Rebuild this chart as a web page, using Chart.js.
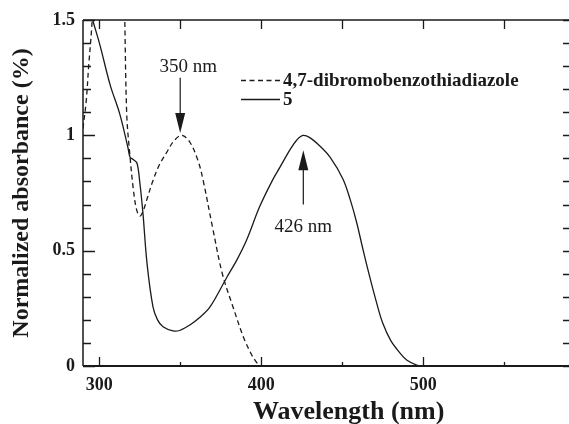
<!DOCTYPE html>
<html>
<head>
<meta charset="utf-8">
<script src="https://cdn.jsdelivr.net/npm/chart.js@4/dist/chart.umd.min.js"></script>
<style>
  html, body { margin: 0; padding: 0; background: #fff; }
  #wrap { width: 569px; height: 424px; }
</style>
</head>
<body>
<div id="wrap"><canvas id="absChart" width="569" height="424"></canvas></div>
<script>
// spectrum data (wavelength in nm, normalized absorbance)
const dibromoWl  = [290, 292, 293.5, 295.5, 298, 302, 308, 313, 315.5, 317, 319, 321, 323, 325, 327, 330, 333, 337, 342, 346, 351, 356, 361, 364, 370, 376, 382.6, 389, 394, 397, 399];
const dibromoAbs = [1.03, 1.15, 1.3, 1.48, 1.8, 2.3, 2.6, 2.2, 1.6, 1.09, 0.91, 0.77, 0.68, 0.65, 0.67, 0.735, 0.8, 0.87, 0.93, 0.975, 1.0, 0.97, 0.89, 0.81, 0.6, 0.40, 0.256, 0.126, 0.05, 0.017, 0];

const cmpd5Wl  = [295, 296, 300.5, 306.7, 312.8, 317.8, 319, 321, 323.3, 325, 327, 329.5, 333.2, 336, 339.4, 345.6, 350, 356, 362, 368.4, 378.9, 385, 391, 399, 407, 411.6, 418, 422, 425.8, 430, 436, 442.5, 450.5, 455, 459, 463, 467, 471, 475, 480, 485.7, 490, 496, 500];
const cmpd5Abs = [1.53, 1.5, 1.39, 1.22, 1.09, 0.945, 0.906, 0.895, 0.88, 0.80, 0.663, 0.446, 0.256, 0.2, 0.17, 0.152, 0.155, 0.178, 0.21, 0.256, 0.386, 0.46, 0.546, 0.69, 0.806, 0.862, 0.94, 0.98, 1.0, 0.99, 0.955, 0.905, 0.81, 0.72, 0.62, 0.5, 0.386, 0.28, 0.186, 0.11, 0.056, 0.025, 0.004, 0];

const xTickVals = [300, 400, 500];
const yTickVals = [0, 0.5, 1, 1.5];
const seriesNames = ['4,7-dibromobenzothiadiazole', '5'];
const peakLabels = [
  { wl: 350, text: '350 nm' },
  { wl: 426, text: '426 nm' }
];

const serif = "'Liberation Serif', 'Times New Roman', serif";
const ink = '#1a1a1a';

function toPoints(xs, ys) {
  return xs.map((x, i) => ({ x: x, y: ys[i] }));
}

// frame, inward ticks, legend, peak arrows, x title
const decorations = {
  id: 'decorations',
  afterDraw(chart) {
    const ctx = chart.ctx;
    const a = chart.chartArea;
    const xs = chart.scales.x;
    const ys = chart.scales.y;
    ctx.save();
    ctx.strokeStyle = ink;
    ctx.fillStyle = ink;

    // frame (right edge falls outside the picture)
    ctx.lineWidth = 1.5;
    ctx.beginPath();
    ctx.moveTo(a.left, a.top); ctx.lineTo(a.right, a.top);
    ctx.moveTo(a.left, a.top); ctx.lineTo(a.left, a.bottom);
    ctx.stroke();
    ctx.lineWidth = 2;
    ctx.beginPath();
    ctx.moveTo(a.left, a.bottom); ctx.lineTo(a.right, a.bottom);
    ctx.stroke();

    // x ticks
    ctx.lineWidth = 1.3;
    ctx.beginPath();
    for (let v = 300; v < 590; v += 50) {
      const px = Math.round(xs.getPixelForValue(v)) + 0.5;
      const major = v % 100 === 0;
      ctx.moveTo(px, a.bottom); ctx.lineTo(px, a.bottom - (major ? 9 : 4));
      ctx.moveTo(px, a.top); ctx.lineTo(px, a.top + 9);
    }
    // y ticks
    for (let i = 0; i <= 15; i++) {
      const v = i / 10;
      const py = Math.round(ys.getPixelForValue(v)) + 0.5;
      const major = i % 5 === 0;
      ctx.moveTo(a.left, py); ctx.lineTo(a.left + (major ? 12 : 8), py);
      ctx.moveTo(a.right, py); ctx.lineTo(a.right - 6, py);
    }
    ctx.stroke();

    // legend
    const ds = chart.data.datasets;
    const legendRows = [80, 99];
    ctx.font = 'bold 19px ' + serif;
    ctx.textBaseline = 'middle';
    ctx.textAlign = 'left';
    ds.forEach((d, i) => {
      const y = legendRows[i] + 0.5;
      ctx.lineWidth = 1.3;
      ctx.setLineDash(d.borderDash || []);
      ctx.beginPath();
      ctx.moveTo(241, y); ctx.lineTo(280, y);
      ctx.stroke();
      ctx.setLineDash([]);
      ctx.fillText(d.label, 283, legendRows[i] + 1);
    });

    // peak arrows
    ctx.lineWidth = 1.2;
    ctx.font = '19px ' + serif;
    ctx.textAlign = 'center';
    // 350 nm, pointing down
    let px = xs.getPixelForValue(peakLabels[0].wl);
    let tip = ys.getPixelForValue(1.01);
    let tail = ys.getPixelForValue(1.25);
    ctx.beginPath();
    ctx.moveTo(px, tail); ctx.lineTo(px, tip - 18);
    ctx.stroke();
    ctx.beginPath();
    ctx.moveTo(px, tip); ctx.lineTo(px - 5, tip - 20); ctx.lineTo(px + 5, tip - 20);
    ctx.closePath(); ctx.fill();
    ctx.fillText(peakLabels[0].text, px + 8, ys.getPixelForValue(1.297));

    // 426 nm, pointing up
    px = xs.getPixelForValue(peakLabels[1].wl);
    tip = ys.getPixelForValue(0.935);
    tail = ys.getPixelForValue(0.70);
    ctx.beginPath();
    ctx.moveTo(px, tail); ctx.lineTo(px, tip + 18);
    ctx.stroke();
    ctx.beginPath();
    ctx.moveTo(px, tip); ctx.lineTo(px - 5, tip + 20); ctx.lineTo(px + 5, tip + 20);
    ctx.closePath(); ctx.fill();
    ctx.fillText(peakLabels[1].text, px, ys.getPixelForValue(0.602));

    // x axis title
    ctx.font = 'bold 26px ' + serif;
    ctx.fillText('Wavelength (nm)', xs.getPixelForValue(454), 412);
    ctx.restore();
  }
};

new Chart(document.getElementById('absChart').getContext('2d'), {
  type: 'line',
  data: {
    datasets: [
      {
        label: seriesNames[0],
        data: toPoints(dibromoWl, dibromoAbs),
        borderColor: ink,
        borderWidth: 1.3,
        borderDash: [5, 3.5],
        pointRadius: 0,
        tension: 0.35,
        fill: false
      },
      {
        label: seriesNames[1],
        data: toPoints(cmpd5Wl, cmpd5Abs),
        borderColor: ink,
        borderWidth: 1.3,
        pointRadius: 0,
        tension: 0.35,
        fill: false
      }
    ]
  },
  options: {
    responsive: false,
    animation: false,
    layout: { padding: { top: 20, right: 0, left: 0, bottom: 0 } },
    plugins: {
      legend: { display: false },
      tooltip: { enabled: false }
    },
    scales: {
      x: {
        type: 'linear',
        min: 290,
        max: 590,
        afterBuildTicks: (scale) => { scale.ticks = xTickVals.map(v => ({ value: v })); },
        afterFit: (scale) => { scale.height = 58; },
        grid: { display: false, drawTicks: false },
        border: { display: false },
        ticks: {
          padding: 9,
          color: ink,
          maxRotation: 0,
          font: { family: serif, size: 18, weight: 'bold' }
        }
      },
      y: {
        type: 'linear',
        min: 0,
        max: 1.5,
        afterBuildTicks: (scale) => { scale.ticks = yTickVals.map(v => ({ value: v })); },
        afterFit: (scale) => { scale.width = 83; },
        grid: { display: false, drawTicks: false },
        border: { display: false },
        ticks: {
          padding: 8,
          color: ink,
          font: { family: serif, size: 18, weight: 'bold' },
          callback: (v) => String(v)
        },
        title: {
          display: true,
          text: 'Normalized absorbance (%)',
          color: ink,
          padding: { top: 10, bottom: 0 },
          font: { family: serif, size: 24, weight: 'bold', lineHeight: 1 }
        }
      }
    }
  },
  plugins: [decorations]
});
</script>
</body>
</html>
